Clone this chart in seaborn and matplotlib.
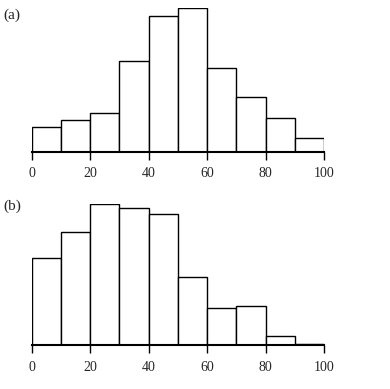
import numpy as np
import pandas as pd
import matplotlib
matplotlib.use("Agg")
import matplotlib.pyplot as plt
import seaborn as sns

sns.set_style("white")
plt.rcParams['font.family'] = ['Liberation Serif', 'DejaVu Serif']

bin_edges = [0, 10, 20, 30, 40, 50, 60, 70, 80, 90, 100]
heights_a = [7.3, 9.4, 11.6, 27.1, 40.8, 43.0, 25.0, 16.3, 10.0, 4.0]
heights_b = [26.2, 34.0, 42.3, 41.3, 39.3, 20.5, 11.2, 11.9, 2.8, 0.3]
panel_labels = ["(a)", "(b)"]
tick_values = [0, 20, 40, 60, 80, 100]

mids = [(bin_edges[i] + bin_edges[i + 1]) / 2 for i in range(len(bin_edges) - 1)]

fig = plt.figure(figsize=(3.90, 3.89), dpi=100)
ax_a = fig.add_axes([0.0813, 0.610, 0.750, 0.3687])
ax_b = fig.add_axes([0.0813, 0.1123, 0.750, 0.3625])

for ax, h, lab, lab_y in [(ax_a, heights_a, panel_labels[0], 0.977),
                          (ax_b, heights_b, panel_labels[1], 0.488)]:
    df = pd.DataFrame({"x": mids, "w": h})
    sns.histplot(data=df, x="x", weights="w", bins=bin_edges, ax=ax,
                 color="white", edgecolor="black", linewidth=1.0, alpha=1.0)
    ax.set_xlim(0, 100)
    ax.set_ylim(0, max(h))
    for s in ["top", "right", "left"]:
        ax.spines[s].set_visible(False)
    ax.spines["bottom"].set_linewidth(1.5)
    ax.spines["bottom"].set_color("black")
    ax.set_xticks(tick_values)
    ax.set_xticklabels([str(t) for t in tick_values])
    ax.set_yticks([])
    ax.set_xlabel("")
    ax.set_ylabel("")
    ax.tick_params(axis="x", direction="out", length=6, width=1.0,
                   color="black", labelsize=10, pad=5, bottom=True)
    ax.margins(x=0)
    ax.patch.set_alpha(0)
    fig.text(0.008, lab_y, lab, fontsize=11, va="top", ha="left")

fig.savefig("out.png", dpi=100)
